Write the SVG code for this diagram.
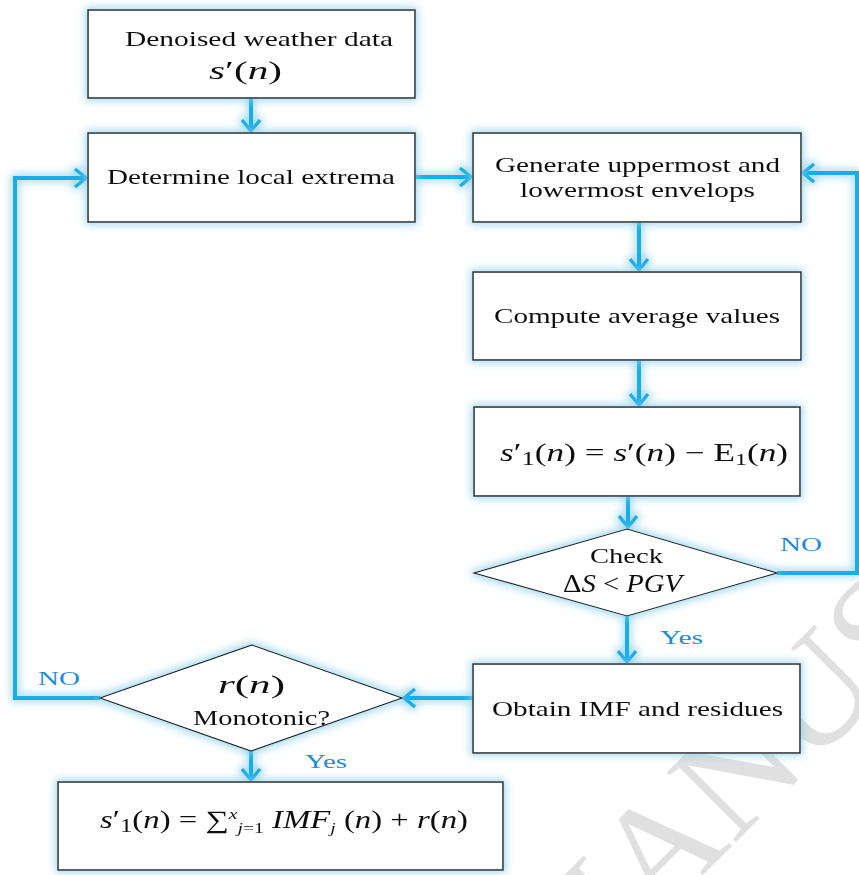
<svg xmlns="http://www.w3.org/2000/svg" width="859" height="875" viewBox="0 0 859 875">
<defs>
<style>
.box{fill:#ffffff;stroke:#333333;stroke-width:1.6}
.dia{fill:#ffffff;stroke:#222222;stroke-width:1.2}
.t{font-family:"Liberation Serif","Times New Roman",serif;font-size:21px;fill:#111111}
.m{font-family:"Liberation Serif","Times New Roman",serif;font-size:25px;fill:#111111}
.i{font-style:italic}
.lbl{font-family:"Liberation Serif","Times New Roman",serif;font-size:19px;fill:#1a8cd8}
.ln{fill:none;stroke:#18ade8;stroke-width:4;stroke-linejoin:miter}
.wm{font-family:"Liberation Serif","Times New Roman",serif;font-size:150px;fill:#e0e0e0}
</style>
<filter id="glow" x="-20%" y="-20%" width="140%" height="140%">
<feMorphology in="SourceAlpha" operator="dilate" radius="2" result="d"/>
<feGaussianBlur in="d" stdDeviation="4" result="b"/>
<feFlood flood-color="#8fd0ea" flood-opacity="0.8"/>
<feComposite in2="b" operator="in" result="g"/>
<feMerge><feMergeNode in="g"/><feMergeNode in="SourceGraphic"/></feMerge>
</filter>
<marker id="arr" markerUnits="userSpaceOnUse" markerWidth="20" markerHeight="22" viewBox="0 0 20 22" refX="13" refY="11" orient="auto">
<path d="M2,2 L13,11 L2,20" fill="none" stroke="#18ade8" stroke-width="3.5"/>
</marker>
</defs>
<rect width="859" height="875" fill="#ffffff"/>

<g id="watermark">
<text class="wm" transform="translate(562,1016) rotate(-45)">MANUSCRIPT</text>
</g>

<g id="connectors" filter="url(#glow)">
<path class="ln" d="M251,98 V131" marker-end="url(#arr)"/>
<path class="ln" d="M415,177 H471" marker-end="url(#arr)"/>
<path class="ln" d="M639,222 V270" marker-end="url(#arr)"/>
<path class="ln" d="M639,360 V405" marker-end="url(#arr)"/>
<path class="ln" d="M628,496 V527" marker-end="url(#arr)"/>
<path class="ln" d="M627,616 V662" marker-end="url(#arr)"/>
<path class="ln" d="M777,573 H857 V173 H803" marker-end="url(#arr)"/>
<path class="ln" d="M473,698 H404" marker-end="url(#arr)"/>
<path class="ln" d="M100,698 H15 V178 H86" marker-end="url(#arr)"/>
<path class="ln" d="M251,751 V780" marker-end="url(#arr)"/>
</g>

<g id="n1" filter="url(#glow)">
<rect class="box" x="88" y="10" width="327" height="88"/>
<text class="t" x="125" y="46" textLength="268" lengthAdjust="spacingAndGlyphs">Denoised weather data</text>
<text class="m" x="209" y="79" textLength="73" lengthAdjust="spacingAndGlyphs"><tspan class="i">s</tspan>′(<tspan class="i">n</tspan>)</text>
</g>

<g id="n2" filter="url(#glow)">
<rect class="box" x="88" y="133" width="327" height="89"/>
<text class="t" x="107" y="184" textLength="288" lengthAdjust="spacingAndGlyphs">Determine local extrema</text>
</g>

<g id="n3" filter="url(#glow)">
<rect class="box" x="473" y="133" width="328" height="89"/>
<text class="t" x="495" y="172" textLength="285" lengthAdjust="spacingAndGlyphs">Generate uppermost and</text>
<text class="t" x="520" y="197" textLength="235" lengthAdjust="spacingAndGlyphs">lowermost envelops</text>
</g>

<g id="n4" filter="url(#glow)">
<rect class="box" x="473" y="272" width="328" height="88"/>
<text class="t" x="494" y="323" textLength="286" lengthAdjust="spacingAndGlyphs">Compute average values</text>
</g>

<g id="n5" filter="url(#glow)">
<rect class="box" x="474" y="407" width="326" height="89"/>
<text class="m" x="500" y="461" textLength="288" lengthAdjust="spacingAndGlyphs"><tspan class="i">s</tspan>′<tspan font-size="19" dy="4">1</tspan><tspan dy="-4">(</tspan><tspan class="i">n</tspan>) = <tspan class="i">s</tspan>′(<tspan class="i">n</tspan>) − E<tspan font-size="17" dy="4">1</tspan><tspan dy="-4">(</tspan><tspan class="i">n</tspan>)</text>
</g>

<g id="d1" filter="url(#glow)">
<polygon class="dia" points="627,529 777,573 627,616 474,573"/>
<text class="t" x="590" y="563" textLength="73" lengthAdjust="spacingAndGlyphs">Check</text>
<text class="m" x="563" y="592" font-size="23" textLength="119" lengthAdjust="spacingAndGlyphs">Δ<tspan class="i">S</tspan> &lt; <tspan class="i">PGV</tspan></text>
</g>

<g id="n6" filter="url(#glow)">
<rect class="box" x="473" y="664" width="327" height="89"/>
<text class="t" x="492" y="716" textLength="291" lengthAdjust="spacingAndGlyphs">Obtain IMF and residues</text>
</g>

<g id="d2" filter="url(#glow)">
<polygon class="dia" points="252,645 402,698 251,751 100,698"/>
<text class="m" x="218" y="693" textLength="67" lengthAdjust="spacingAndGlyphs"><tspan class="i">r</tspan>(<tspan class="i">n</tspan>)</text>
<text class="t" x="193" y="725" textLength="137" lengthAdjust="spacingAndGlyphs">Monotonic?</text>
</g>

<g id="n7" filter="url(#glow)">
<rect class="box" x="58" y="782" width="445" height="88"/>
<text class="m" x="100" y="828" textLength="368" lengthAdjust="spacingAndGlyphs"><tspan class="i">s</tspan>′<tspan font-size="19" dy="4">1</tspan><tspan dy="-4">(</tspan><tspan class="i">n</tspan>) = ∑<tspan font-size="15" dy="-9" class="i">x</tspan><tspan font-size="15" dy="14" class="i">j</tspan><tspan font-size="15">=1</tspan><tspan dy="-5"> </tspan><tspan class="i">IMF</tspan><tspan font-size="15" dy="5" class="i">j</tspan><tspan dy="-5"> (</tspan><tspan class="i">n</tspan>) + <tspan class="i">r</tspan>(<tspan class="i">n</tspan>)</text>
</g>

<g id="labels">
<text class="lbl" x="780" y="551" textLength="42" lengthAdjust="spacingAndGlyphs">NO</text>
<text class="lbl" x="660" y="644" textLength="43" lengthAdjust="spacingAndGlyphs">Yes</text>
<text class="lbl" x="38" y="685" textLength="42" lengthAdjust="spacingAndGlyphs">NO</text>
<text class="lbl" x="305" y="768" textLength="42" lengthAdjust="spacingAndGlyphs">Yes</text>
</g>
</svg>
